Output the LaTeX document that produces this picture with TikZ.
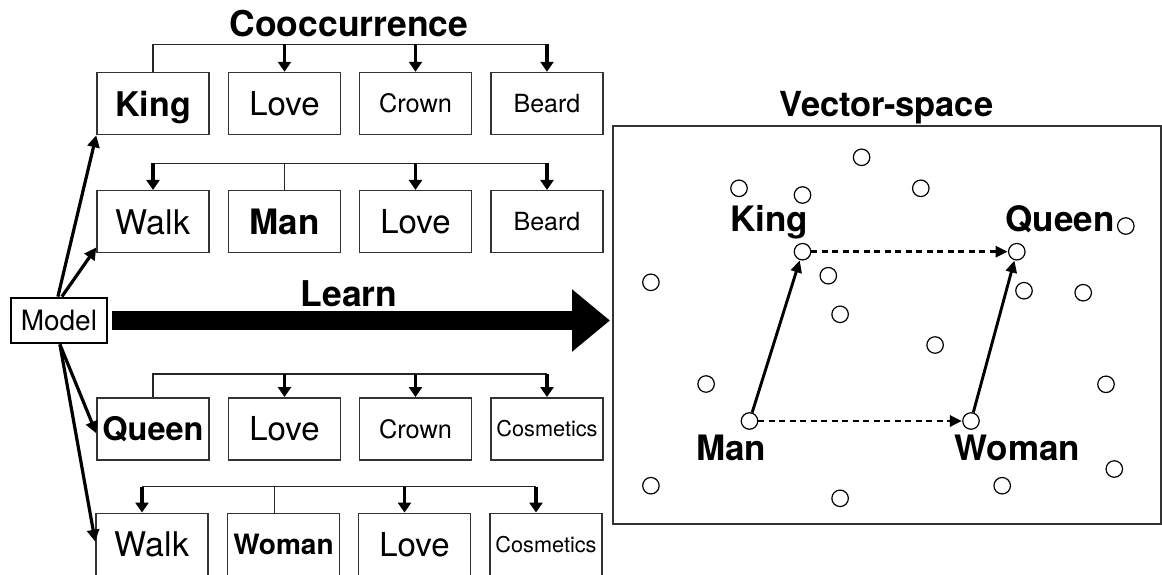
\documentclass[tikz,border=0pt]{standalone}
\usepackage{fontspec}
\setmainfont{TeX Gyre Heros}
\usetikzlibrary{arrows.meta}
\begin{document}
\begin{tikzpicture}[x=1pt,y=-1pt,
  wsize/.style={font=\fontsize{#1}{#1}\selectfont},
  wordbox/.style={draw=black!80, line width=1.5pt, minimum width=112pt,
    minimum height=62pt, inner sep=0pt, text depth=0pt},
  heading/.style={font=\fontsize{35.5}{35.5}\selectfont\bfseries, anchor=base, inner sep=0pt},
  vlabel/.style={font=\fontsize{35}{35}\selectfont\bfseries, anchor=base, inner sep=0pt},
  barline/.style={draw=black!85, line width=1.4pt},
  bararrow/.style={draw=black, line width=3.1pt, -{Triangle[length=10pt,width=13pt]}},
  modelarrow/.style={draw=black, line width=3.2pt, -{Triangle[length=12pt,width=12pt]}},
  dot/.style={circle, draw=black, line width=1.2pt, fill=white, minimum size=16.5pt, inner sep=0pt},
  vecarrow/.style={draw=black, line width=2.9pt, -{Triangle[length=12pt,width=11pt]}, shorten >=0.3pt},
  offset/.style={vecarrow, dash pattern=on 6pt off 4.5pt}
]
\clip (0,0) rectangle (1162,574);

% headings
\node[heading] (cooc) at (349,36) {Cooccurrence};
\node[heading, font=\fontsize{34.5}{34.5}\selectfont\bfseries] (vtitle) at (886.5,116) {Vector-space};

% model and the learning arrow
\node[draw=black, line width=2.8pt, minimum width=96pt, minimum height=45pt, inner sep=0pt,
      text depth=0pt, wsize=28] (model) at (58.9,320.5) {Model};
\node[heading] (learn) at (349,306.7) {Learn};
\coordinate (learnend) at (610,320.5);
\draw[line width=19pt, -{Triangle[length=38pt,width=60pt]}] ([xshift=3.7pt]model.east) -- (learnend);

% row 1: King
\node[wordbox, wsize=34] (king) at (153,103.5) {\bfseries King};
\node[wordbox, wsize=33] (love1) at (284.5,103.5) {Love};
\node[wordbox, wsize=25.4] (crown1) at (415.5,103.5) {Crown};
\node[wordbox, wsize=25] (beard1) at (547,103.5) {Beard};

% row 2: Man
\node[wordbox, wsize=34] (walk1) at (153,221.7) {Walk};
\node[wordbox, wsize=35] (man) at (284.5,221.7) {\bfseries Man};
\node[wordbox, wsize=33] (love2) at (415.5,221.7) {Love};
\node[wordbox, wsize=25] (beard2) at (547,221.7) {Beard};

% row 3: Queen
\node[wordbox, wsize=32.5] (queen) at (153,428.8) {\bfseries Queen};
\node[wordbox, wsize=33] (love3) at (284.5,428.8) {Love};
\node[wordbox, wsize=25.4] (crown3) at (415.5,428.8) {Crown};
\node[wordbox, wsize=21.7] (cosm3) at (547,428.8) {Cosmetics};

% row 4: Woman
\node[wordbox, wsize=34] (walk2) at (152,544.3) {Walk};
\node[wordbox, wsize=28] (woman) at (283.5,544.3) {\bfseries Woman};
\node[wordbox, wsize=33] (love4) at (414.5,544.3) {Love};
\node[wordbox, wsize=21.7] (cosm4) at (546,544.3) {Cosmetics};

% co-occurrence brackets
\coordinate (bar1) at (0,44.3);
\coordinate (bar2) at (0,163.3);
\coordinate (bar3) at (0,374);
\coordinate (bar4) at (0,486.7);

\draw[barline] (king.north) |- (beard1.north |- bar1);
\draw[bararrow] (love1.north |- bar1) -- (love1.north);
\draw[bararrow] (crown1.north |- bar1) -- (crown1.north);
\draw[bararrow] (beard1.north |- bar1) -- (beard1.north);

\draw[barline] (man.north) -- (man.north |- bar2);
\draw[barline] (walk1.north |- bar2) -- (beard2.north |- bar2);
\draw[bararrow] (walk1.north |- bar2) -- (walk1.north);
\draw[bararrow] (love2.north |- bar2) -- (love2.north);
\draw[bararrow] (beard2.north |- bar2) -- (beard2.north);

\draw[barline] (queen.north) |- (cosm3.north |- bar3);
\draw[bararrow] (love3.north |- bar3) -- (love3.north);
\draw[bararrow] (crown3.north |- bar3) -- (crown3.north);
\draw[bararrow] (cosm3.north |- bar3) -- (cosm3.north);

\coordinate (w2top) at ([xshift=-10pt]walk2.north);
\coordinate (wotop) at ([xshift=-9pt]woman.north);
\coordinate (l4top) at ([xshift=-10pt]love4.north);
\coordinate (c4top) at ([xshift=-10pt]cosm4.north);
\draw[barline] (wotop) -- (wotop |- bar4);
\draw[barline] (w2top |- bar4) -- (c4top |- bar4);
\draw[bararrow] (w2top |- bar4) -- (w2top);
\draw[bararrow] (l4top |- bar4) -- (l4top);
\draw[bararrow] (c4top |- bar4) -- (c4top);

% model feeds every word group
\draw[modelarrow] ([xshift=-1pt]model.north) -- (king.south west);
\draw[modelarrow] ([xshift=3pt]model.north) -- ([yshift=6pt]walk1.south west);
\draw[modelarrow] ([xshift=1pt]model.south) -- ([yshift=-4.5pt]queen.west);
\draw[modelarrow] ([xshift=1pt]model.south) -- ([yshift=2.6pt]walk2.west);

% vector space
\node[draw=black!80, line width=1.5pt, minimum width=548pt, minimum height=398pt, inner sep=0pt]
  (vs) at (887,325) {};

\node[dot] (p1) at (861.6,157.3) {};
\node[dot] (p2) at (739,188.3) {};
\node[dot] (p3) at (802.5,195) {};
\node[dot] (p4) at (920.8,188.3) {};
\node[dot] (p5) at (1125.8,226) {};
\node[dot] (p6) at (650.9,282.3) {};
\node[dot] (p7) at (828.3,275.7) {};
\node[dot] (p8) at (1024,290.7) {};
\node[dot] (p9) at (1083.2,292.7) {};
\node[dot] (p10) at (840.1,314.3) {};
\node[dot] (p11) at (935.1,345) {};
\node[dot] (p12) at (706.1,384) {};
\node[dot] (p13) at (1106,384.3) {};
\node[dot] (p14) at (650.9,485.7) {};
\node[dot] (p15) at (840.1,498.3) {};
\node[dot] (p16) at (1002.2,485.7) {};
\node[dot] (p17) at (1114.3,469) {};

\node[dot] (vking) at (802.5,251.7) {};
\node[dot] (vqueen) at (1016.8,251.7) {};
\node[dot] (vman) at (749.5,421) {};
\node[dot] (vwoman) at (971,421) {};

\node[vlabel] (lking) at (769,231.7) {King};
\node[vlabel] (lqueen) at (1060,231.7) {Queen};
\node[vlabel] (lman) at (731,460) {Man};
\node[vlabel] (lwoman) at (1017.5,460) {Woman};

\draw[vecarrow] (vman) -- (vking);
\draw[vecarrow] (vwoman) -- (vqueen);
\draw[offset] (vking) -- (vqueen);
\draw[offset] (vman) -- (vwoman);
\end{tikzpicture}
\end{document}
